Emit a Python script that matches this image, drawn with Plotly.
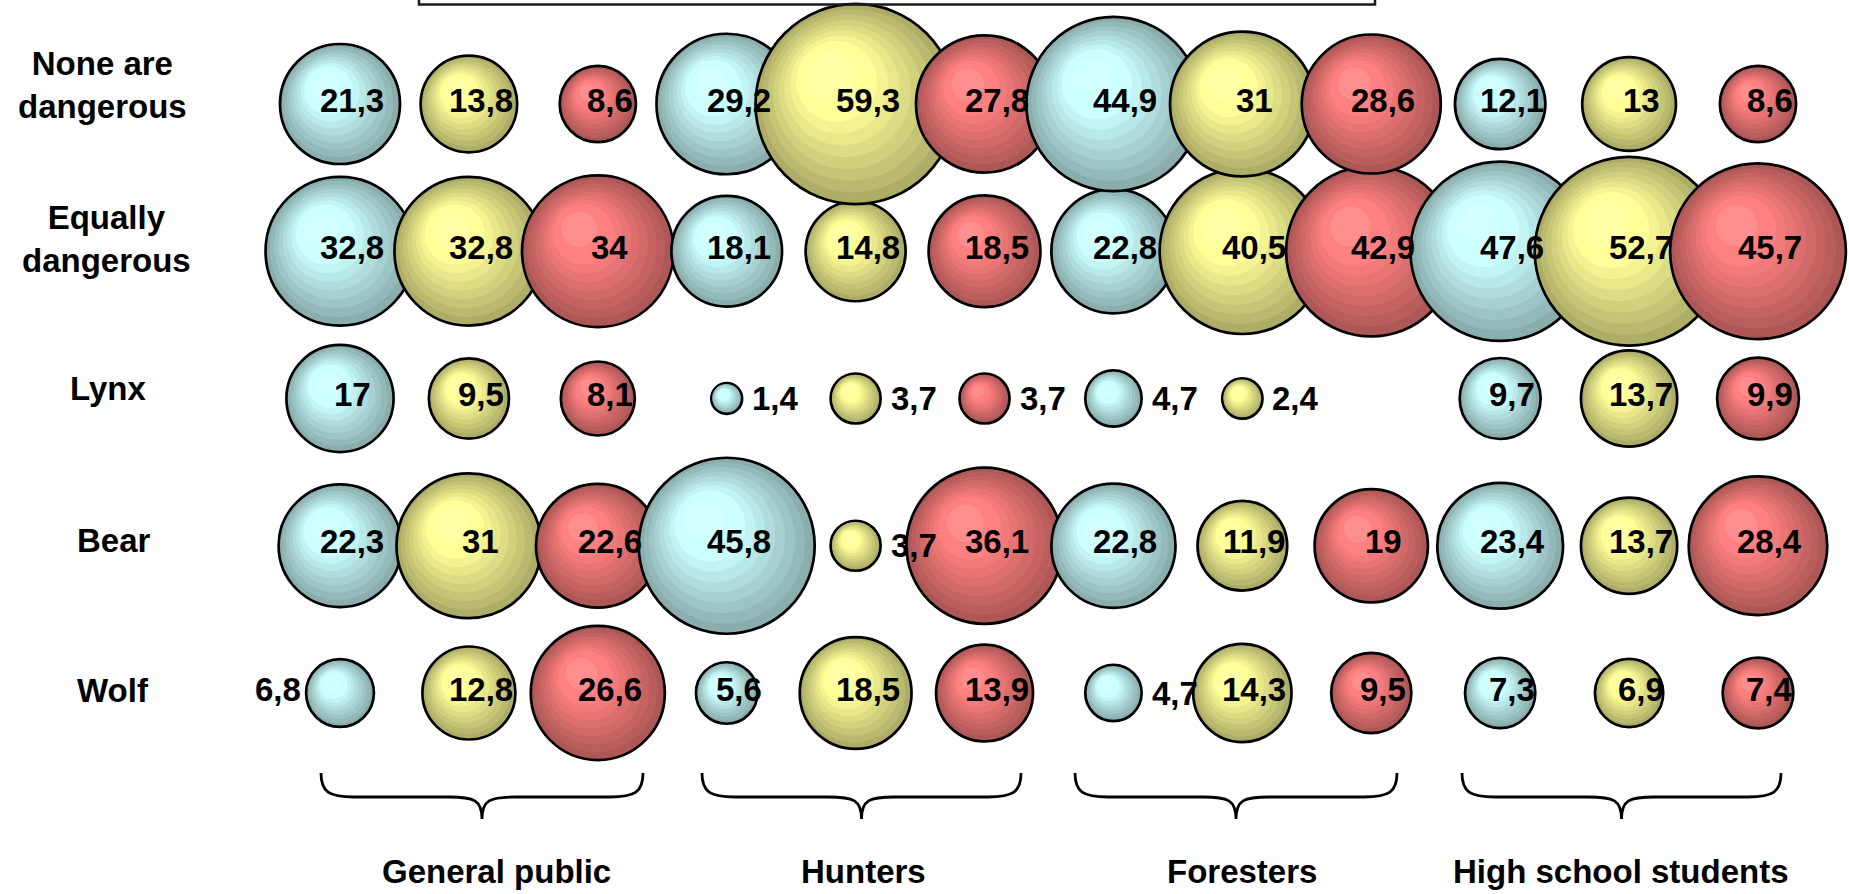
import plotly.graph_objects as go

# ---- data -------------------------------------------------------------
rows = ["None are<br>dangerous", "Equally<br>dangerous", "Lynx", "Bear", "Wolf"]
groups = ["General public", "Hunters", "Foresters", "High school students"]

gp_blue = [21.3, 32.8, 17.0, 22.3, 6.8]
gp_yellow = [13.8, 32.8, 9.5, 31.0, 12.8]
gp_red = [8.6, 34.0, 8.1, 22.6, 26.6]

hu_blue = [29.2, 18.1, 1.4, 45.8, 5.6]
hu_yellow = [59.3, 14.8, 3.7, 3.7, 18.5]
hu_red = [27.8, 18.5, 3.7, 36.1, 13.9]

fo_blue = [44.9, 22.8, 4.7, 22.8, 4.7]
fo_yellow = [31.0, 40.5, 2.4, 11.9, 14.3]
fo_red = [28.6, 42.9, None, 19.0, 9.5]

hs_blue = [12.1, 47.6, 9.7, 23.4, 7.3]
hs_yellow = [13.0, 52.7, 13.7, 13.7, 6.9]
hs_red = [8.6, 45.7, 9.9, 28.4, 7.4]

columns = [gp_blue, gp_yellow, gp_red,
           hu_blue, hu_yellow, hu_red,
           fo_blue, fo_yellow, fo_red,
           hs_blue, hs_yellow, hs_red]
column_tone = ["blue", "yellow", "red"] * 4

# ---- geometry / style -------------------------------------------------
W, H = 1849, 894
X_RANGE = [-1.6375, 12.706]
Y_RANGE = [-0.365, 5.7063]
PPU_X = W / (X_RANGE[1] - X_RANGE[0])
PPU_Y = H / (Y_RANGE[1] - Y_RANGE[0])
SIZEREF = 2.0 / 26.0 ** 2          # area mode: diameter = 26 * sqrt(value) px

BASE = {"blue": (204, 255, 255), "yellow": (255, 255, 153), "red": (255, 128, 128)}
N_LAYERS = 10
LAYER_STEP = 0.085
FOCUS = (-0.32, 0.38)               # highlight focus, in radii (left, up)

FONT = "Arial, Liberation Sans, sans-serif"


def radius_px(v):
    return (v / (2 * SIZEREF)) ** 0.5


def layer_color(tone, k):
    r, g, b = BASE[tone]
    if k == N_LAYERS - 1:
        m = 0.12
        return f"rgb({r + (255 - r) * m:.0f},{g + (255 - g) * m:.0f},{b + (255 - b) * m:.0f})"
    t = min(1.0, k / (N_LAYERS - 3))
    s = 0.68 + 0.32 * t
    return f"rgb({r * s:.0f},{g * s:.0f},{b * s:.0f})"


def fmt(v):
    return f"{v:g}".replace(".", ",")


fig = go.Figure()

# rows are drawn bottom-up so the upper rows sit on top where they touch
for i in reversed(range(len(rows))):
    yv = len(rows) - i
    xs, ys, sizes, colors, widths = [], [], [], [], []
    for c, col in enumerate(columns):
        v = col[i]
        if v is None:
            continue
        xv = c + 1
        r = radius_px(v)
        for k in range(N_LAYERS):
            f = 1 - LAYER_STEP * k
            xs.append(xv + (1 - f) * FOCUS[0] * r / PPU_X)
            ys.append(yv + (1 - f) * FOCUS[1] * r / PPU_Y)
            sizes.append(v * f * f)
            colors.append(layer_color(column_tone[c], k))
            widths.append(2.7 if k == 0 else 0)
    fig.add_trace(go.Scatter(
        x=xs, y=ys, mode="markers", name=rows[i].replace("<br>", " "),
        hoverinfo="skip", showlegend=False,
        marker=dict(size=sizes, sizemode="area", sizeref=SIZEREF,
                    color=colors, opacity=1,
                    line=dict(color="black", width=widths)),
    ))

# value labels
annotations = []
for i in range(len(rows)):
    yv = len(rows) - i
    for c, col in enumerate(columns):
        v = col[i]
        if v is None:
            continue
        r = radius_px(v)
        if i == 4 and c == 0:
            anchor, xs_, ys_ = "right", -(r + 3), 4
        elif v < 5:
            anchor, xs_, ys_ = "left", r + 8, 0
        else:
            anchor, xs_, ys_ = "center", 12, 4
        annotations.append(dict(
            x=c + 1, y=yv, xref="x", yref="y", text=fmt(v), showarrow=False,
            xanchor=anchor, yanchor="middle", xshift=xs_, yshift=ys_,
            font=dict(family=FONT, size=33, color="black", weight="bold"),
        ))

# row labels
row_label_x = [102, 106, 108, 114, 113]
row_label_shift = [19, 12, 10, 5, 3]
for i, name in enumerate(rows):
    annotations.append(dict(
        x=row_label_x[i] / W, y=len(rows) - i, xref="paper", yref="y",
        text=name, showarrow=False, align="center",
        xanchor="center", yanchor="middle", yshift=row_label_shift[i],
        font=dict(family=FONT, size=33, color="black", weight="bold"),
    ))

# group labels and braces
group_label_x = [497, 863, 1242, 1621]
brace_spans = [(321, 643), (702, 1021), (1075, 1397), (1462, 1781)]
BR_TOP, BR_MID, BR_TIP = 773, 797, 819

shapes = []


def px(x, y):
    return f"{x / W:.5f},{1 - y / H:.5f}"


for g, name in enumerate(groups):
    annotations.append(dict(
        x=group_label_x[g] / W, y=1 - 871 / H, xref="paper", yref="paper",
        text=name, showarrow=False, xanchor="center", yanchor="middle",
        font=dict(family=FONT, size=33, color="black", weight="bold"),
    ))
    xl, xr = brace_spans[g]
    xc = (xl + xr) / 2
    q = 33
    path = (f"M {px(xl, BR_TOP)} "
            f"C {px(xl, BR_MID - 5)} {px(xl + 8, BR_MID)} {px(xl + q, BR_MID)} "
            f"L {px(xc - q, BR_MID)} "
            f"C {px(xc - 8, BR_MID)} {px(xc, BR_MID + 3)} {px(xc, BR_TIP)} "
            f"C {px(xc, BR_MID + 3)} {px(xc + 8, BR_MID)} {px(xc + q, BR_MID)} "
            f"L {px(xr - q, BR_MID)} "
            f"C {px(xr - 8, BR_MID)} {px(xr, BR_MID - 5)} {px(xr, BR_TOP)}")
    shapes.append(dict(type="path", xref="paper", yref="paper", path=path,
                       line=dict(color="black", width=2.8)))

# frame running off the top edge
shapes.append(dict(type="rect", xref="paper", yref="paper",
                   x0=419 / W, x1=1375 / W, y0=1 - 4.5 / H, y1=1.2,
                   line=dict(color="#1a1a1a", width=2.5), fillcolor="rgba(0,0,0,0)"))

fig.update_layout(
    width=W, height=H, autosize=False,
    margin=dict(l=0, r=0, t=0, b=0),
    paper_bgcolor="white", plot_bgcolor="white",
    xaxis=dict(range=X_RANGE, visible=False, fixedrange=True),
    yaxis=dict(range=Y_RANGE, visible=False, fixedrange=True),
    showlegend=False,
    annotations=annotations,
    shapes=shapes,
)

fig.write_html("out.html")
